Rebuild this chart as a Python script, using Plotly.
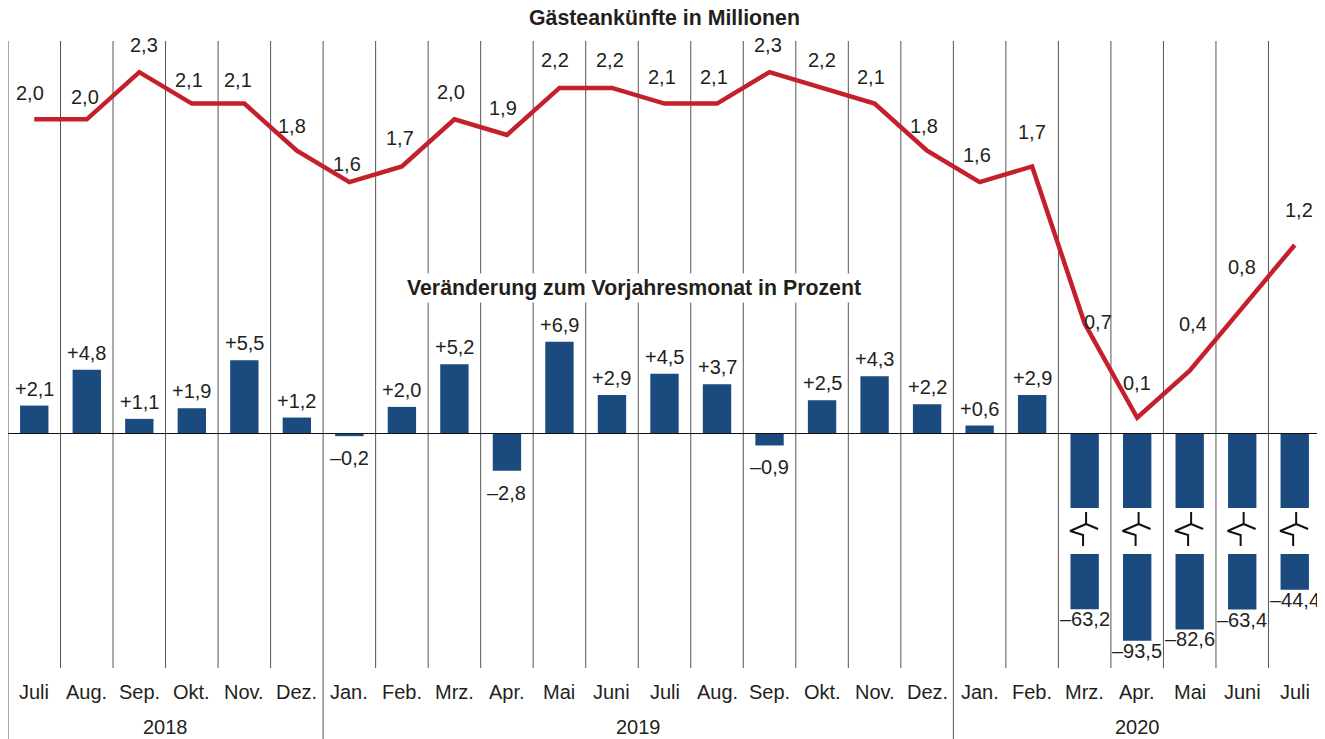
import plotly.graph_objects as go

# ---------------- data ----------------
months = ["Juli", "Aug.", "Sep.", "Okt.", "Nov.", "Dez.",
          "Jan.", "Feb.", "Mrz.", "Apr.", "Mai", "Juni", "Juli", "Aug.", "Sep.", "Okt.", "Nov.", "Dez.",
          "Jan.", "Feb.", "Mrz.", "Apr.", "Mai", "Juni", "Juli"]
years = ["2018", "2019", "2020"]
year_spans = [(0, 5), (6, 17), (18, 24)]
arrivals = [2.0, 2.0, 2.3, 2.1, 2.1, 1.8,
            1.6, 1.7, 2.0, 1.9, 2.2, 2.2, 2.1, 2.1, 2.3, 2.2, 2.1, 1.8,
            1.6, 1.7, 0.7, 0.1, 0.4, 0.8, 1.2]
change = [2.1, 4.8, 1.1, 1.9, 5.5, 1.2,
          -0.2, 2.0, 5.2, -2.8, 6.9, 2.9, 4.5, 3.7, -0.9, 2.5, 4.3, 2.2,
          0.6, 2.9, -63.2, -93.5, -82.6, -63.4, -44.4]
title_top = "Gästeankünfte in Millionen"
title_bars = "Veränderung zum Vorjahresmonat in Prozent"

# ---------------- styling / geometry ----------------
# the page body has an 8px margin, so the figure is drawn 8px smaller
PAGE_OFF = 8
W, H = 1325 - PAGE_OFF, 739 - PAGE_OFF
PLOT_TOP, PLOT_BOT = 41, 668          # page pixel rows
ML, MR = 0, 4
MT = PLOT_TOP - PAGE_OFF
MB = (H + PAGE_OFF) - PLOT_BOT
PH = PLOT_BOT - PLOT_TOP
ZERO_PX = 433.5            # page pixel row of the zero line
BAR_PXU = 13.3             # px per percent point (upper scale)
LINE_PXU = 157.1           # px per million
BREAK_LIMIT = -10          # values below are drawn with an axis break
UPPER_CUT = -5.6           # upper segment ends here (bar scale)
LOW_TOP_PX = 554           # lower segment starts at this page pixel row
LOW_BASE = -9.8            # value represented by LOW_TOP_PX on lower scale
LOW_PXU = 1.036            # px per percent on lower scale

BLUE = "#1B4A7F"
RED = "#C4202B"
TXT = "#231F20"
GRID = "#555555"
FONT = "Liberation Sans, Arial, sans-serif"
FS = 20
FST = 21.3

def rng(zero_px, pxu):
    return [-(PLOT_BOT - zero_px) / pxu, (zero_px - PLOT_TOP) / pxu]

low_range = [LOW_BASE - (PLOT_BOT - LOW_TOP_PX) / LOW_PXU, LOW_BASE + (LOW_TOP_PX - PLOT_TOP) / LOW_PXU]

def fmt(v, sign=False):
    s = f"{abs(v):.1f}".replace(".", ",")
    if sign:
        return ("+" if v >= 0 else "–") + s
    return s

n = len(months)
xs = list(range(n))

fig = go.Figure()

# upper segments of bars
upper = [max(v, UPPER_CUT) if v < BREAK_LIMIT else v for v in change]
fig.add_trace(go.Bar(x=xs, y=upper, width=0.54, marker=dict(color=BLUE, line=dict(width=0)),
                     yaxis="y", hoverinfo="skip"))

# lower segments of broken bars
bx = [i for i, v in enumerate(change) if v < BREAK_LIMIT]
fig.add_trace(go.Bar(x=bx, y=[change[i] - LOW_BASE for i in bx], base=[LOW_BASE] * len(bx),
                     width=0.54, marker=dict(color=BLUE, line=dict(width=0)),
                     yaxis="y3", hoverinfo="skip"))

# break symbols
def pxv(p):
    return -(p - ZERO_PX) / BAR_PXU
sx, sy = [], []
for i in bx:
    pts1 = [(0.027, 512), (0.027, 524), (0.255, 529)]
    pts2 = [(0.027, 524), (-0.278, 531), (-0.030, 535), (-0.030, 546)]
    for pts in (pts1, pts2):
        for dx, p in pts:
            sx.append(i + dx)
            sy.append(pxv(p))
        sx.append(None)
        sy.append(None)
fig.add_trace(go.Scatter(x=sx, y=sy, mode="lines", line=dict(color="#111111", width=2),
                         yaxis="y", hoverinfo="skip", cliponaxis=False))

# line of arrivals
fig.add_trace(go.Scatter(x=xs, y=arrivals, mode="lines", line=dict(color=RED, width=4.5),
                         yaxis="y2", hoverinfo="skip", cliponaxis=False))

annotations = []
# line labels
ldx = [-4, -2, 5, -3, -6, -5, -2, -2, -3, -4, -4, -2, -3, -3, -2, 0, -4, -3, -3, 0, 13, 0, 3, 0, 4]
ldy = [26, 22, 27, 24, 24, 25, 18, 28, 27, 27, 28, 28, 27, 27, 27, 28, 27, 25, 27, 34, 2, 35, 47, 41, 35]
for i, v in enumerate(arrivals):
    annotations.append(dict(x=i, y=v, xref="x", yref="y2", text=fmt(v), showarrow=False,
                            xshift=ldx[i], yshift=ldy[i], font=dict(size=FS, color=TXT, family=FONT)))

# bar labels
for i, v in enumerate(change):
    if v >= 0:
        annotations.append(dict(x=i, y=v, xref="x", yref="y", text=fmt(v, True), showarrow=False,
                                yanchor="bottom", yshift=4, font=dict(size=FS, color=TXT, family=FONT)))
    elif v >= BREAK_LIMIT:
        annotations.append(dict(x=i, y=v, xref="x", yref="y", text=fmt(v, True), showarrow=False,
                                yanchor="top", yshift=-9, font=dict(size=FS, color=TXT, family=FONT)))
    else:
        annotations.append(dict(x=i, y=v, xref="x", yref="y3", text=fmt(v, True), showarrow=False,
                                yanchor="top", yshift=3, font=dict(size=FS, color=TXT, family=FONT)))

# month and year labels
for i, m in enumerate(months):
    annotations.append(dict(x=i, y=0, xref="x", yref="paper", text=m, showarrow=False,
                            yanchor="middle", yshift=-24, font=dict(size=FS, color=TXT, family=FONT)))
for y, (a, b) in zip(years, year_spans):
    annotations.append(dict(x=(a + b) / 2, y=0, xref="x", yref="paper", text=y, showarrow=False,
                            yanchor="middle", yshift=-59, font=dict(size=FS, color=TXT, family=FONT)))

# titles
annotations.append(dict(x=0.5, y=1, xref="paper", yref="paper", text="<b>" + title_top + "</b>",
                        showarrow=False, yanchor="middle", yshift=23,
                        font=dict(size=FST, color=TXT, family=FONT)))
annotations.append(dict(x=0.4767, y=(PLOT_BOT - 288) / PH, xref="paper", yref="paper",
                        text="<b>" + title_bars + "</b>", showarrow=False, yanchor="middle",
                        bgcolor="white", borderpad=2,
                        font=dict(size=FST, color=TXT, family=FONT)))

# grid lines
shapes = []
year_bounds = {-0.5, 5.5, 17.5, 24.5}
for k in range(n + 1):
    x = k - 0.5
    y0 = -MB / PH if x in year_bounds else 0
    shapes.append(dict(type="line", xref="x", yref="paper", x0=x, x1=x, y0=y0, y1=1,
                       line=dict(color=GRID, width=1), layer="below"))
shapes.append(dict(type="line", xref="paper", yref="y", x0=0, x1=1, y0=0, y1=0,
                   line=dict(color="#111111", width=1), layer="above"))

ax_off = dict(visible=False, showgrid=False, zeroline=False, fixedrange=True)
fig.update_layout(
    width=W, height=H,
    margin=dict(l=ML, r=MR, t=MT, b=MB),
    paper_bgcolor="white", plot_bgcolor="white",
    showlegend=False, barmode="overlay",
    xaxis=dict(range=[-0.5, n - 0.5], **ax_off),
    yaxis=dict(range=rng(ZERO_PX, BAR_PXU), **ax_off),
    yaxis2=dict(range=rng(ZERO_PX, LINE_PXU), overlaying="y", **ax_off),
    yaxis3=dict(range=low_range, overlaying="y", **ax_off),
    annotations=annotations, shapes=shapes,
)

fig.write_html("out.html")
